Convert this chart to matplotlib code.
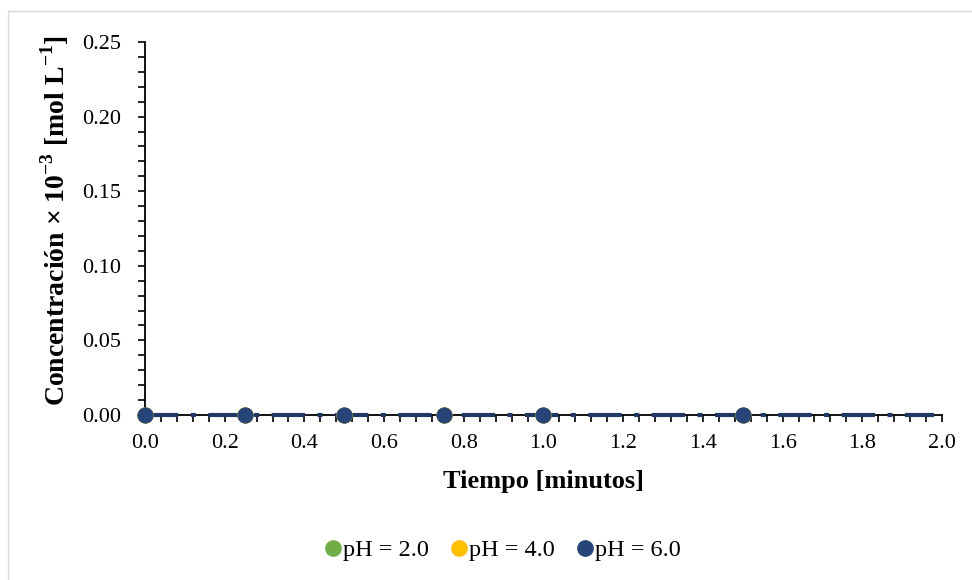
import matplotlib
matplotlib.use("Agg")
import matplotlib.pyplot as plt
from matplotlib.ticker import MultipleLocator, FormatStrFormatter
from matplotlib.patches import Rectangle
from matplotlib.lines import Line2D

plt.rcParams['font.family'] = ['Liberation Serif', 'DejaVu Serif']
plt.rcParams['mathtext.fontset'] = 'custom'
plt.rcParams['mathtext.rm'] = 'Liberation Serif'
plt.rcParams['mathtext.bf'] = 'Liberation Serif:bold'

tiempo = [0.0, 0.25, 0.5, 0.75, 1.0, 1.5]
ph2 = [0.0, 0.0, 0.0, 0.0, 0.0, 0.0]
ph4 = [0.0, 0.0, 0.0, 0.0, 0.0, 0.0]
ph6 = [0.0, 0.0, 0.0, 0.0, 0.0, 0.0]
trend_x = [0.0, 1.98]
trend_y = [0.0, 0.0]
series_labels = ['pH = 2.0', 'pH = 4.0', 'pH = 6.0']
colors = ['#70AD47', '#FFC000', '#264478']

fig = plt.figure(figsize=(9.72, 5.8), dpi=100)
ax = fig.add_axes([0.1492, 0.2845, 0.9691 - 0.1492, 0.9276 - 0.2845])

fig.patches.append(Rectangle((8 / 972, -0.1), 1.1, 1 - 11 / 580 + 0.1, transform=fig.transFigure,
                             fill=False, edgecolor='#D9D9D9', linewidth=1.0))

ax.plot(trend_x, trend_y, color='#1F3864', linewidth=3.0, linestyle=(0, (8, 3, 1.2, 3)),
        solid_capstyle='butt', dash_capstyle='butt', zorder=3, clip_on=False)
for ys, c, lab in zip([ph2, ph4, ph6], colors, series_labels):
    ax.plot(tiempo, ys, linestyle='none', marker='o', markersize=11, color=c,
            markeredgecolor=c, markeredgewidth=0.6, label=lab, zorder=4, clip_on=False)

ax.set_xlim(0, 2.0)
ax.set_ylim(0, 0.25)
ax.xaxis.set_major_locator(MultipleLocator(0.2))
ax.xaxis.set_minor_locator(MultipleLocator(0.04))
ax.yaxis.set_major_locator(MultipleLocator(0.05))
ax.yaxis.set_minor_locator(MultipleLocator(0.01))
ax.xaxis.set_major_formatter(FormatStrFormatter('%.1f'))
ax.yaxis.set_major_formatter(FormatStrFormatter('%.2f'))
ax.tick_params(axis='both', which='both', direction='out', length=5, width=1.2, color='black',
               labelsize=16)
ax.tick_params(axis='x', which='major', pad=8.5)
ax.tick_params(axis='y', which='major', pad=12)
for s in ['top', 'right']:
    ax.spines[s].set_visible(False)
for s in ['left', 'bottom']:
    ax.spines[s].set_linewidth(1.3)
    ax.spines[s].set_color('black')
    ax.spines[s].set_zorder(2)

ax.set_xlabel('Tiempo [minutos]', fontsize=19, fontweight='bold')
ax.xaxis.set_label_coords(0.4994, -0.147)
ax.set_ylabel(r'Concentración × 10$^{\mathbf{-3}}$ [mol L$^{\mathbf{-1}}$]', fontsize=20,
              fontweight='bold')
ax.yaxis.set_label_coords(-0.093, 0.52)

handles = [Line2D([], [], linestyle='none', marker='o', markersize=11, color=c) for c in colors]
fig.legend(handles, series_labels, loc='center', bbox_to_anchor=(501 / 972, 1 - 550 / 580),
           ncol=3, frameon=False, fontsize=17.5, handletextpad=-0.1, columnspacing=0.75,
           handlelength=1.0)

fig.savefig('out.png', dpi=100)
